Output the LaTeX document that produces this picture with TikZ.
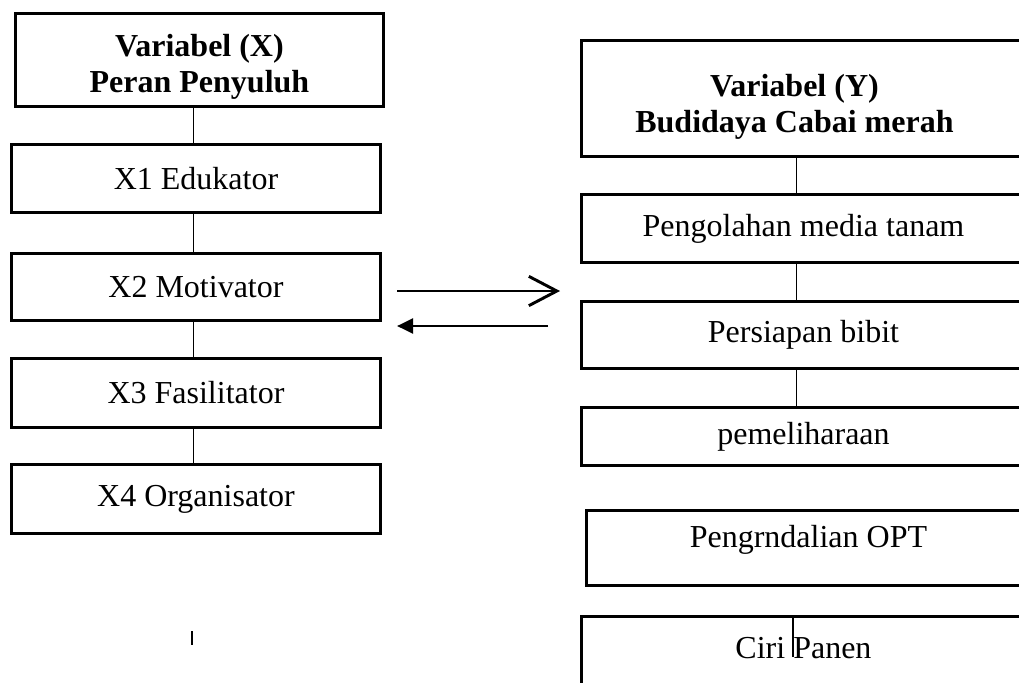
\documentclass[tikz,border=0pt]{standalone}
\usepackage{fontspec}
\setmainfont{Liberation Serif}
\usetikzlibrary{arrows.meta}

\begin{document}
\begin{tikzpicture}[x=0.75pt,y=-0.75pt]
\tikzstyle{box}=[draw,line width=2.2pt,rectangle,anchor=north west,inner sep=0pt,font=\fontsize{24}{27}\selectfont,align=center]
\tikzstyle{lbox}=[box,minimum width=276.75pt]
\tikzstyle{rbox}=[box,minimum width=333pt]
\tikzstyle{link}=[line width=0.9pt]
\tikzstyle{flow}=[line width=2.2pt]
\path[use as bounding box,clip] (0,0) rectangle (1019,682);

% variabel X
\node [lbox,minimum width=276pt,minimum height=69.75pt] (xvar) at (14,12) {\rule{0pt}{27pt}\textbf{Variabel (X)}\\\textbf{Peran Penyuluh}};
\node [lbox,minimum height=51pt] (x1) at (10,143) {X1 Edukator};
\node [lbox,minimum height=50.25pt] (x2) at (10,252) {X2 Motivator};
\node [lbox,minimum height=51.75pt] (x3) at (10,357) {X3 Fasilitator};
\node [lbox,minimum height=51.75pt] (x4) at (10,463) {X4 Organisator};
\draw[link] ([xshift=-2pt]x1.north) -- ++(0,-38);
\draw[link] ([xshift=-2pt]x1.south) -- ([xshift=-2pt]x2.north);
\draw[link] ([xshift=-2pt]x2.south) -- ([xshift=-2pt]x3.north);
\draw[link] ([xshift=-2pt]x3.south) -- ([xshift=-2pt]x4.north);
\draw[link] (192,631) -- (192,645);

% variabel Y
\node [rbox,minimum height=87pt] (yvar) at (580,39) {\rule{0pt}{29pt}\textbf{Variabel (Y)}\hspace*{13.5pt}\\\textbf{Budidaya Cabai merah}\hspace*{13.5pt}};
\node [rbox,minimum height=51pt] (y1) at (580,193) {Pengolahan media tanam};
\node [rbox,minimum height=50.25pt] (y2) at (580,300) {Persiapan bibit};
\node [rbox,minimum height=43.5pt] (y3) at (580,406) {pemeliharaan};
\node [rbox,minimum height=56.25pt,text depth=17pt] (y4) at (585,509) {Pengrndalian OPT};
\node [rbox,minimum height=56.25pt,text depth=9pt] (y5) at (580,615) {Ciri Panen};
\draw[link] ([xshift=-5pt]yvar.south) -- ([xshift=-5pt]y1.north);
\draw[link] ([xshift=-5pt]y1.south) -- ([xshift=-5pt]y2.north);
\draw[link] ([xshift=-5pt]y2.south) -- ([xshift=-5pt]y3.north);
\draw[line width=1.3pt] (793,615) -- (793,657);

% hubungan X dan Y
\coordinate (go1) at (397,291);
\coordinate (go2) at (560,291);
\coordinate (back1) at (548,326);
\coordinate (back2) at (397,326);
\draw[flow,-{Straight Barb[length=21pt,width=22pt]}] (go1) -- (go2);
\draw[flow,-{Triangle[length=12pt,width=11pt]}] (back1) -- (back2);
\end{tikzpicture}
\end{document}
